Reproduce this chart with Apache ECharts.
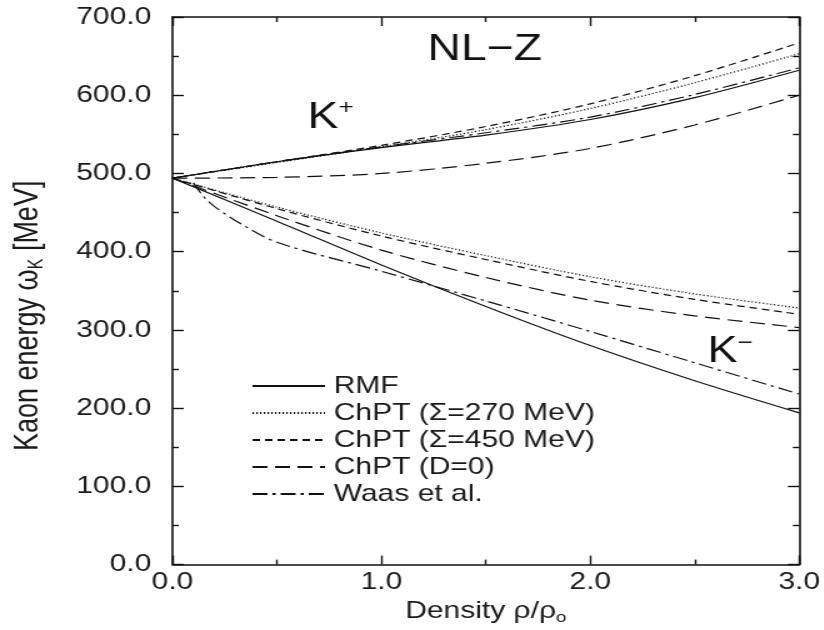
<!DOCTYPE html>
<html>
<head>
<meta charset="utf-8">
<script src="https://cdn.jsdelivr.net/npm/echarts@6/dist/echarts.min.js"></script>
<style>
  html, body { margin: 0; padding: 0; background: #fff; overflow: hidden; }
  /* the original figure is stretched sideways, so draw narrow and widen it */
  #chart { width: 659px; height: 630px; transform: scaleX(1.25); transform-origin: 0 0; }
</style>
</head>
<body>
<div id="chart"></div>
<script>
// density grid (rho / rho0)
var rho = [0, 0.5, 1.0, 1.5, 2.0, 2.5, 3.0];
var rhoWaasMinus = [0.1, 0.15, 0.2, 0.3, 0.5, 1.0, 1.5, 2.0, 2.5, 3.0];

// K+ energies [MeV]
var kPlusRMF   = [494, 515, 533, 549, 569, 597, 632];
var kPlus270   = [494, 514, 534, 556, 583, 616, 653];
var kPlus450   = [494, 515, 536, 560, 589, 625, 667];
var kPlusD0    = [494, 495, 500, 513, 532, 562, 600];
var kPlusWaas  = [494, 515, 534, 552, 572, 601, 635];

// K- energies [MeV]
var kMinusRMF  = [494, 439, 383, 330, 280, 235, 194];
var kMinus270  = [494, 457, 424, 395, 368, 346, 328];
var kMinus450  = [494, 455, 420, 390, 362, 339, 320];
var kMinusD0   = [494, 446, 402, 367, 338, 318, 303];
var kMinusWaas = [488, 470, 458, 440, 412, 375, 337, 298, 258, 218];

var legendNames = ['RMF', 'ChPT (Σ=270 MeV)', 'ChPT (Σ=450 MeV)', 'ChPT (D=0)', 'Waas et al.'];
var dashes = ['solid', [1.2, 1.8], [6, 4], [12, 6], [12, 4, 2.5, 4]];

var yTicks = { min: 0, max: 700, step: 100 };
var xTicks = { min: 0, max: 3, step: 1 };

function pairs(xs, ys) {
  return ys.map(function (v, i) { return [xs[i], v]; });
}

function line(nameIdx, xs, ys) {
  return {
    name: legendNames[nameIdx],
    type: 'line',
    data: pairs(xs, ys),
    symbol: 'none',
    smooth: 0.3,
    lineStyle: { color: '#111', width: 1.2, type: dashes[nameIdx] },
    itemStyle: { color: '#111' },
    z: 3
  };
}

var font = 'Liberation Sans, Arial, sans-serif';
var ink = '#1a1a1a';

var tickStyle = { show: true, inside: true, length: 9, lineStyle: { color: '#111', width: 1.4 } };
var minorStyle = { show: true, splitNumber: 2, length: 5, lineStyle: { color: '#111', width: 1.4 } };
var lineAx = { show: true, onZero: false, lineStyle: { color: '#111', width: 1.6 } };

var chart = echarts.init(document.getElementById('chart'));

chart.setOption({
  backgroundColor: '#ffffff',
  animation: false,
  grid: { left: 138, right: 19, top: 17, bottom: 65 },
  legend: {
    orient: 'vertical',
    left: 196,
    top: 369,
    itemWidth: 58,
    itemHeight: 14,
    itemGap: 3,
    data: legendNames,
    itemStyle: { opacity: 0 },
    textStyle: { fontFamily: font, fontSize: 24, color: ink, lineHeight: 24, padding: [0, 0, 0, 2] },
    selectedMode: false
  },
  xAxis: [{
    type: 'value',
    min: xTicks.min, max: xTicks.max, interval: xTicks.step,
    name: '{a|Density ρ/ρ}{s|o}',
    nameLocation: 'middle',
    nameGap: 30,
    nameTextStyle: {
      rich: {
        a: { fontFamily: font, fontSize: 24, color: ink },
        s: { fontFamily: font, fontSize: 15, color: ink, padding: [12, 0, 0, 0] }
      }
    },
    axisLine: lineAx,
    axisTick: tickStyle,
    minorTick: minorStyle,
    splitLine: { show: false },
    axisLabel: {
      fontFamily: font, fontSize: 24, color: ink, margin: 6,
      formatter: function (v) { return v.toFixed(1); }
    }
  }, {
    type: 'value',
    position: 'top',
    min: xTicks.min, max: xTicks.max, interval: xTicks.step,
    axisLine: lineAx,
    axisTick: tickStyle,
    minorTick: minorStyle,
    splitLine: { show: false },
    axisLabel: { show: false }
  }],
  yAxis: [{
    type: 'value',
    min: yTicks.min, max: yTicks.max, interval: yTicks.step,
    name: '{a|Kaon energy ω}{s|K}{a| [MeV]}',
    nameLocation: 'middle',
    nameGap: 100,
    nameRotate: 90,
    nameTextStyle: {
      padding: [0, 50, 0, 0],
      rich: {
        a: { fontFamily: font, fontSize: 27, color: ink },
        s: { fontFamily: font, fontSize: 16, color: ink, padding: [14, 0, 0, 0] }
      }
    },
    axisLine: lineAx,
    axisTick: tickStyle,
    minorTick: minorStyle,
    splitLine: { show: false },
    axisLabel: {
      fontFamily: font, fontSize: 24, color: ink, margin: 17,
      formatter: function (v) { return v.toFixed(1); }
    }
  }, {
    type: 'value',
    position: 'right',
    min: yTicks.min, max: yTicks.max, interval: yTicks.step,
    axisLine: lineAx,
    axisTick: tickStyle,
    minorTick: minorStyle,
    splitLine: { show: false },
    axisLabel: { show: false }
  }],
  graphic: [{
    type: 'text', left: 342, top: 31,
    style: { text: 'NL−Z', font: '37px ' + font, fill: '#111' }
  }, {
    type: 'text', left: 246, top: 98,
    style: {
      text: '{a|K}{b|+}',
      rich: {
        a: { font: '37px ' + font, fill: '#111' },
        b: { font: '21px ' + font, fill: '#111', padding: [0, 0, 18, 0] }
      }
    }
  }, {
    type: 'text', left: 566, top: 333,
    style: {
      text: '{a|K}{b|−}',
      rich: {
        a: { font: '36px ' + font, fill: '#111' },
        b: { font: '21px ' + font, fill: '#111', padding: [0, 0, 18, 0] }
      }
    }
  }],
  series: [
    line(0, rho, kPlusRMF),
    line(1, rho, kPlus270),
    line(2, rho, kPlus450),
    line(3, rho, kPlusD0),
    line(4, rho, kPlusWaas),
    line(0, rho, kMinusRMF),
    line(1, rho, kMinus270),
    line(2, rho, kMinus450),
    line(3, rho, kMinusD0),
    line(4, rhoWaasMinus, kMinusWaas)
  ]
});
</script>
</body>
</html>
